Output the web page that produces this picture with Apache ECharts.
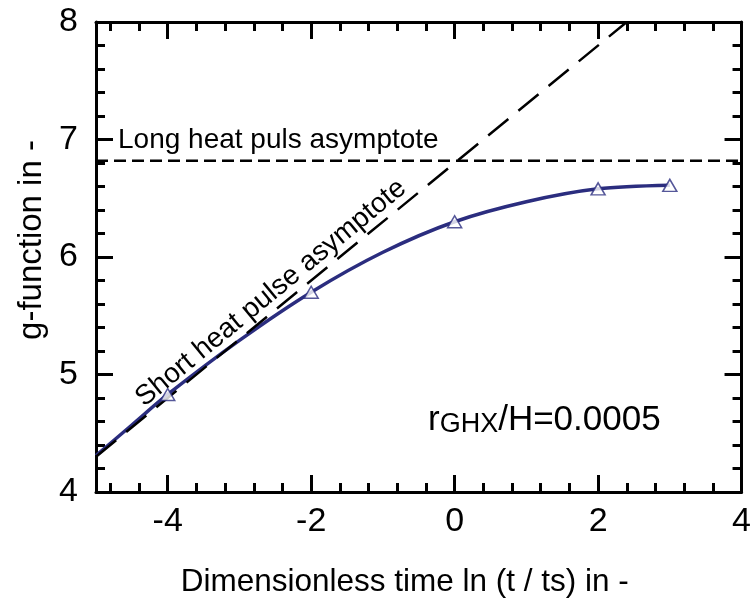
<!DOCTYPE html>
<html>
<head>
<meta charset="utf-8">
<script src="https://cdn.jsdelivr.net/npm/echarts@6/dist/echarts.min.js"></script>
<style>
html,body{margin:0;padding:0;background:#fff;}
#chart{width:754px;height:606px;}
</style>
</head>
<body>
<div id="chart"></div>
<script>
// ---- data ----
const curveX = [-5, -4.5, -4, -3, -2, -1, 0, 1, 2, 3];
const curveY = [4.31, 4.57, 4.83, 5.29, 5.70, 6.04, 6.30, 6.47, 6.58, 6.61];
const markerX = [-4, -2, 0, 2, 3];
const markerY = [4.83, 5.70, 6.30, 6.58, 6.61];
const shortAsymX = [-5, 2.4];
const shortAsymY = [4.30, 8.0];
const longAsymX = [-5, 4];
const longAsymY = [6.82, 6.82];
const xMajorTicks = [-4, -2, 0, 2, 4];
const xMinorTicks = [-4.8, -4.4, -3.6, -3.2, -2.8, -2.4, -1.6, -1.2, -0.8, -0.4, 0.4, 0.8, 1.2, 1.6, 2.4, 2.8, 3.2, 3.6];
const yMin = 4, yMax = 8, yInterval = 1;
const xMin = -5, xMax = 4;

const FONT = '"Liberation Sans", Arial, sans-serif';
const NAVY = '#2b2d7f';

function pairs(xs, ys) { return xs.map((x, i) => [x, ys[i]]); }

const chart = echarts.init(document.getElementById('chart'), null, {renderer: 'canvas'});

const baseX = {
  type: 'value', min: xMin, max: xMax, splitLine: {show: false}
};
const axisLineStyle = {show: true, onZero: false, lineStyle: {color: '#000', width: 3}};
const noLine = {show: false, onZero: false};

const option = {
  animation: false,
  backgroundColor: '#fff',
  grid: {left: 96, right: 6, top: 22, bottom: 114, containLabel: false},
  xAxis: [
    Object.assign({}, baseX, {
      position: 'bottom',
      axisLine: axisLineStyle,
      axisTick: {show: true, inside: true, length: 17, lineStyle: {color: '#000', width: 3}, customValues: xMajorTicks},
      axisLabel: {show: true, customValues: xMajorTicks, fontSize: 34, fontFamily: FONT, color: '#000', margin: 13},
      name: 'Dimensionless time ln (t / ts) in -',
      nameLocation: 'middle', nameGap: 74,
      nameTextStyle: {fontSize: 31.5, fontFamily: FONT, color: '#000', padding: [0, 28, 0, 0]}
    }),
    Object.assign({}, baseX, {
      position: 'bottom',
      axisLine: noLine,
      axisTick: {show: true, inside: true, length: 9, lineStyle: {color: '#000', width: 3}, customValues: xMinorTicks},
      axisLabel: {show: false}
    }),
    Object.assign({}, baseX, {
      position: 'top',
      axisLine: axisLineStyle,
      axisTick: {show: true, inside: true, length: 17, lineStyle: {color: '#000', width: 3}, customValues: xMajorTicks},
      axisLabel: {show: false}
    }),
    Object.assign({}, baseX, {
      position: 'top',
      axisLine: noLine,
      axisTick: {show: true, inside: true, length: 9, lineStyle: {color: '#000', width: 3}, customValues: xMinorTicks},
      axisLabel: {show: false}
    })
  ],
  yAxis: [
    {
      type: 'value', min: yMin, max: yMax, interval: yInterval, position: 'left',
      splitLine: {show: false},
      axisLine: axisLineStyle,
      axisTick: {show: true, inside: true, length: 17, lineStyle: {color: '#000', width: 3}},
      minorTick: {show: true, splitNumber: 5, length: 9, lineStyle: {color: '#000', width: 3}},
      axisLabel: {fontSize: 34, fontFamily: FONT, color: '#000', margin: 18},
      name: 'g-function in -', nameLocation: 'middle', nameGap: 48,
      nameTextStyle: {fontSize: 33, fontFamily: FONT, color: '#000', padding: [0, 0, 0, 34]}
    },
    {
      type: 'value', min: yMin, max: yMax, interval: yInterval, position: 'right',
      splitLine: {show: false},
      axisLine: axisLineStyle,
      axisTick: {show: true, inside: true, length: 17, lineStyle: {color: '#000', width: 3}},
      minorTick: {show: true, splitNumber: 5, length: 9, lineStyle: {color: '#000', width: 3}},
      axisLabel: {show: false}
    }
  ],
  series: [
    {
      name: 'g-function', type: 'line', xAxisIndex: 0, yAxisIndex: 0,
      data: pairs(curveX, curveY), smooth: 0.3, showSymbol: false, symbol: 'none',
      lineStyle: {color: NAVY, width: 3.5}, z: 2
    },
    {
      name: 'Short asymptote', type: 'line', xAxisIndex: 0, yAxisIndex: 0,
      data: pairs(shortAsymX, shortAsymY), showSymbol: false, symbol: 'none',
      lineStyle: {color: '#000', width: 2.5, type: [26, 13]}, z: 3
    },
    {
      name: 'Long asymptote', type: 'line', xAxisIndex: 0, yAxisIndex: 0,
      data: pairs(longAsymX, longAsymY), showSymbol: false, symbol: 'none',
      lineStyle: {color: '#000', width: 2.5, type: [12, 6]}, z: 3
    },
    {
      name: 'points', type: 'scatter', xAxisIndex: 0, yAxisIndex: 0,
      data: pairs(markerX, markerY), symbol: 'triangle', symbolSize: [14, 12],
      itemStyle: {color: '#fff', borderColor: NAVY, borderWidth: 1.5}, z: 5
    }
  ],
  graphic: [
    {
      type: 'text', x: 118, y: 140, z: 10,
      style: {text: 'Long heat puls asymptote', font: '28px ' + FONT, fill: '#000', align: 'left', verticalAlign: 'middle'}
    },
    {
      type: 'text', x: 271, y: 293, rotation: 0.689, z: 10,
      style: {text: 'Short heat pulse asymptote', font: '28px ' + FONT, fill: '#000', align: 'center', verticalAlign: 'middle'}
    },
    {
      type: 'text', x: 428, y: 418, z: 10,
      style: {
        text: '{m|r}{s|GHX}{m|/H=0.0005}',
        align: 'left', verticalAlign: 'middle',
        rich: {
          m: {fontSize: 35, fontFamily: FONT, fill: '#000', color: '#000', lineHeight: 40, verticalAlign: 'bottom'},
          s: {fontSize: 27, fontFamily: FONT, fill: '#000', color: '#000', lineHeight: 12, verticalAlign: 'bottom'}
        }
      }
    }
  ]
};
chart.setOption(option);
</script>
</body>
</html>
